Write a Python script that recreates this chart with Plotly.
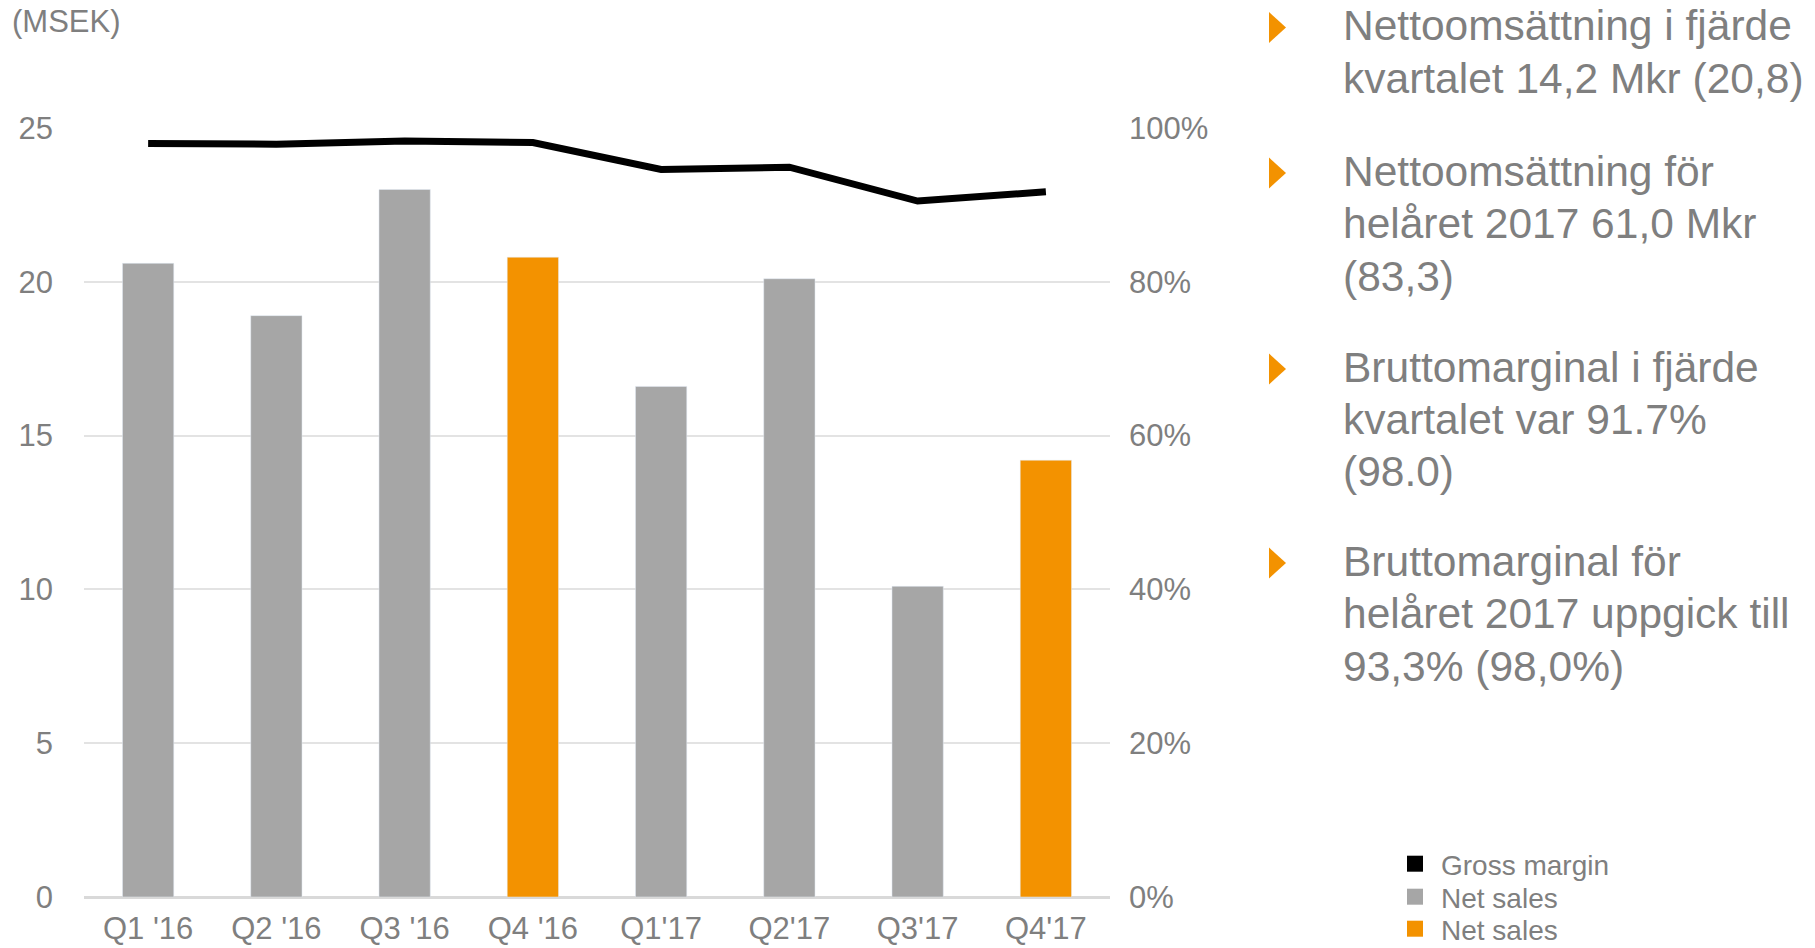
import plotly.graph_objects as go

# ---------------- data ----------------
quarters = ["Q1 '16", "Q2 '16", "Q3 '16", "Q4 '16", "Q1'17", "Q2'17", "Q3'17", "Q4'17"]
net_sales_gray = [20.6, 18.9, 23.0, None, 16.6, 20.1, 10.1, None]
net_sales_orange = [None, None, None, 20.8, None, None, None, 14.2]
gross_margin = [0.980, 0.979, 0.983, 0.981, 0.946, 0.949, 0.905, 0.917]

y_ticks = [0, 5, 10, 15, 20, 25]
y2_ticks = [0, 0.2, 0.4, 0.6, 0.8, 1.0]

unit_label = "(MSEK)"
legend_names = ["Gross margin", "Net sales", "Net sales"]
bullets = [
    ["Nettoomsättning i fjärde", "kvartalet 14,2 Mkr (20,8)"],
    ["Nettoomsättning för", "helåret 2017 61,0 Mkr", "(83,3)"],
    ["Bruttomarginal i fjärde", "kvartalet var 91.7%", "(98.0)"],
    ["Bruttomarginal för", "helåret 2017 uppgick till", "93,3% (98,0%)"],
]

GRAY = "#A6A6A6"
ORANGE = "#F39200"
TEXT = "#7F7F7F"
FONT = "Liberation Sans, Arial, sans-serif"

W, H = 1815, 948
L, R, T, B = 84, 1110, 128, 897  # plot area in pixels
pw, ph = R - L, B - T


def px_x(x):
    return (x - L) / pw


def px_y(y):
    return (B - y) / ph


fig = go.Figure()

fig.add_trace(go.Bar(x=quarters, y=net_sales_gray, marker_color=GRAY, width=0.4,
                     name="Net sales", showlegend=False))
fig.add_trace(go.Bar(x=quarters, y=net_sales_orange, marker_color=ORANGE, width=0.4,
                     name="Net sales", showlegend=False))
fig.add_trace(go.Scatter(x=quarters, y=gross_margin, yaxis="y2", mode="lines",
                         line=dict(color="black", width=7), name="Gross margin",
                         showlegend=False))

# legend entries (square swatches), one legend box per row for exact spacing
legend_colors = ["black", GRAY, ORANGE]
legend_ids = ["legend", "legend2", "legend3"]
for nm, col, lid in zip(legend_names, legend_colors, legend_ids):
    fig.add_trace(go.Scatter(x=[None], y=[None], mode="markers", name=nm, legend=lid,
                             marker=dict(symbol="square", size=18, color=col)))

legend_rows_y = [864, 897, 929]
leg_common = dict(xref="container", yref="container", xanchor="left", yanchor="middle",
                  font=dict(size=28, color=TEXT, family=FONT), bgcolor="rgba(0,0,0,0)",
                  borderwidth=0, itemwidth=42)
legends = {}
for lid, yy in zip(legend_ids, legend_rows_y):
    legends[lid] = dict(x=1389 / W, y=1 - yy / H, **leg_common)

annotations = [dict(text=unit_label, xref="paper", yref="paper", x=px_x(10), y=px_y(22),
                    xanchor="left", yanchor="middle", showarrow=False,
                    font=dict(family=FONT, size=31, color=TEXT))]

shapes = []
line_h = 52.5
starts = [25.5, 171, 367, 561]
for lines, y0 in zip(bullets, starts):
    for i, ln in enumerate(lines):
        annotations.append(dict(text=ln, xref="paper", yref="paper", x=px_x(1341),
                                y=px_y(y0 + i * line_h), xanchor="left", yanchor="middle",
                                showarrow=False, font=dict(family=FONT, size=42.5, color=TEXT)))
    ty = y0 + 2
    shapes.append(dict(type="path", xref="paper", yref="paper",
                       path=f"M {px_x(1269)} {px_y(ty - 15.5)} L {px_x(1286)} {px_y(ty)} "
                            f"L {px_x(1269)} {px_y(ty + 15.5)} Z",
                       fillcolor=ORANGE, line=dict(width=0)))

fig.update_layout(
    width=W, height=H,
    margin=dict(l=L, r=W - R, t=T, b=H - B, autoexpand=False),
    plot_bgcolor="white", paper_bgcolor="white",
    barmode="overlay",
    font=dict(family=FONT, color=TEXT),
    xaxis=dict(showgrid=False, ticks="", tickfont=dict(size=31, color=TEXT),
               ticklabelstandoff=10, showline=False, zeroline=False, automargin=False),
    yaxis=dict(range=[0, 25], tickvals=y_ticks, showgrid=True, gridcolor="#E3E3E3",
               gridwidth=1.5, zeroline=True, zerolinecolor="#D9D9D9", zerolinewidth=2.5,
               tickfont=dict(size=31, color=TEXT), ticklabelstandoff=30, showline=False,
               automargin=False),
    yaxis2=dict(range=[0, 1], tickvals=y2_ticks, tickformat=".0%", overlaying="y",
                side="right", showgrid=False, zeroline=False, showline=False,
                tickfont=dict(size=31, color=TEXT), ticklabelstandoff=18, automargin=False),
    annotations=annotations,
    shapes=shapes,
    **legends,
)

fig.write_html("out.html", config={"displayModeBar": False},
               post_script="document.body.style.margin='0';document.body.style.overflow='hidden';")
